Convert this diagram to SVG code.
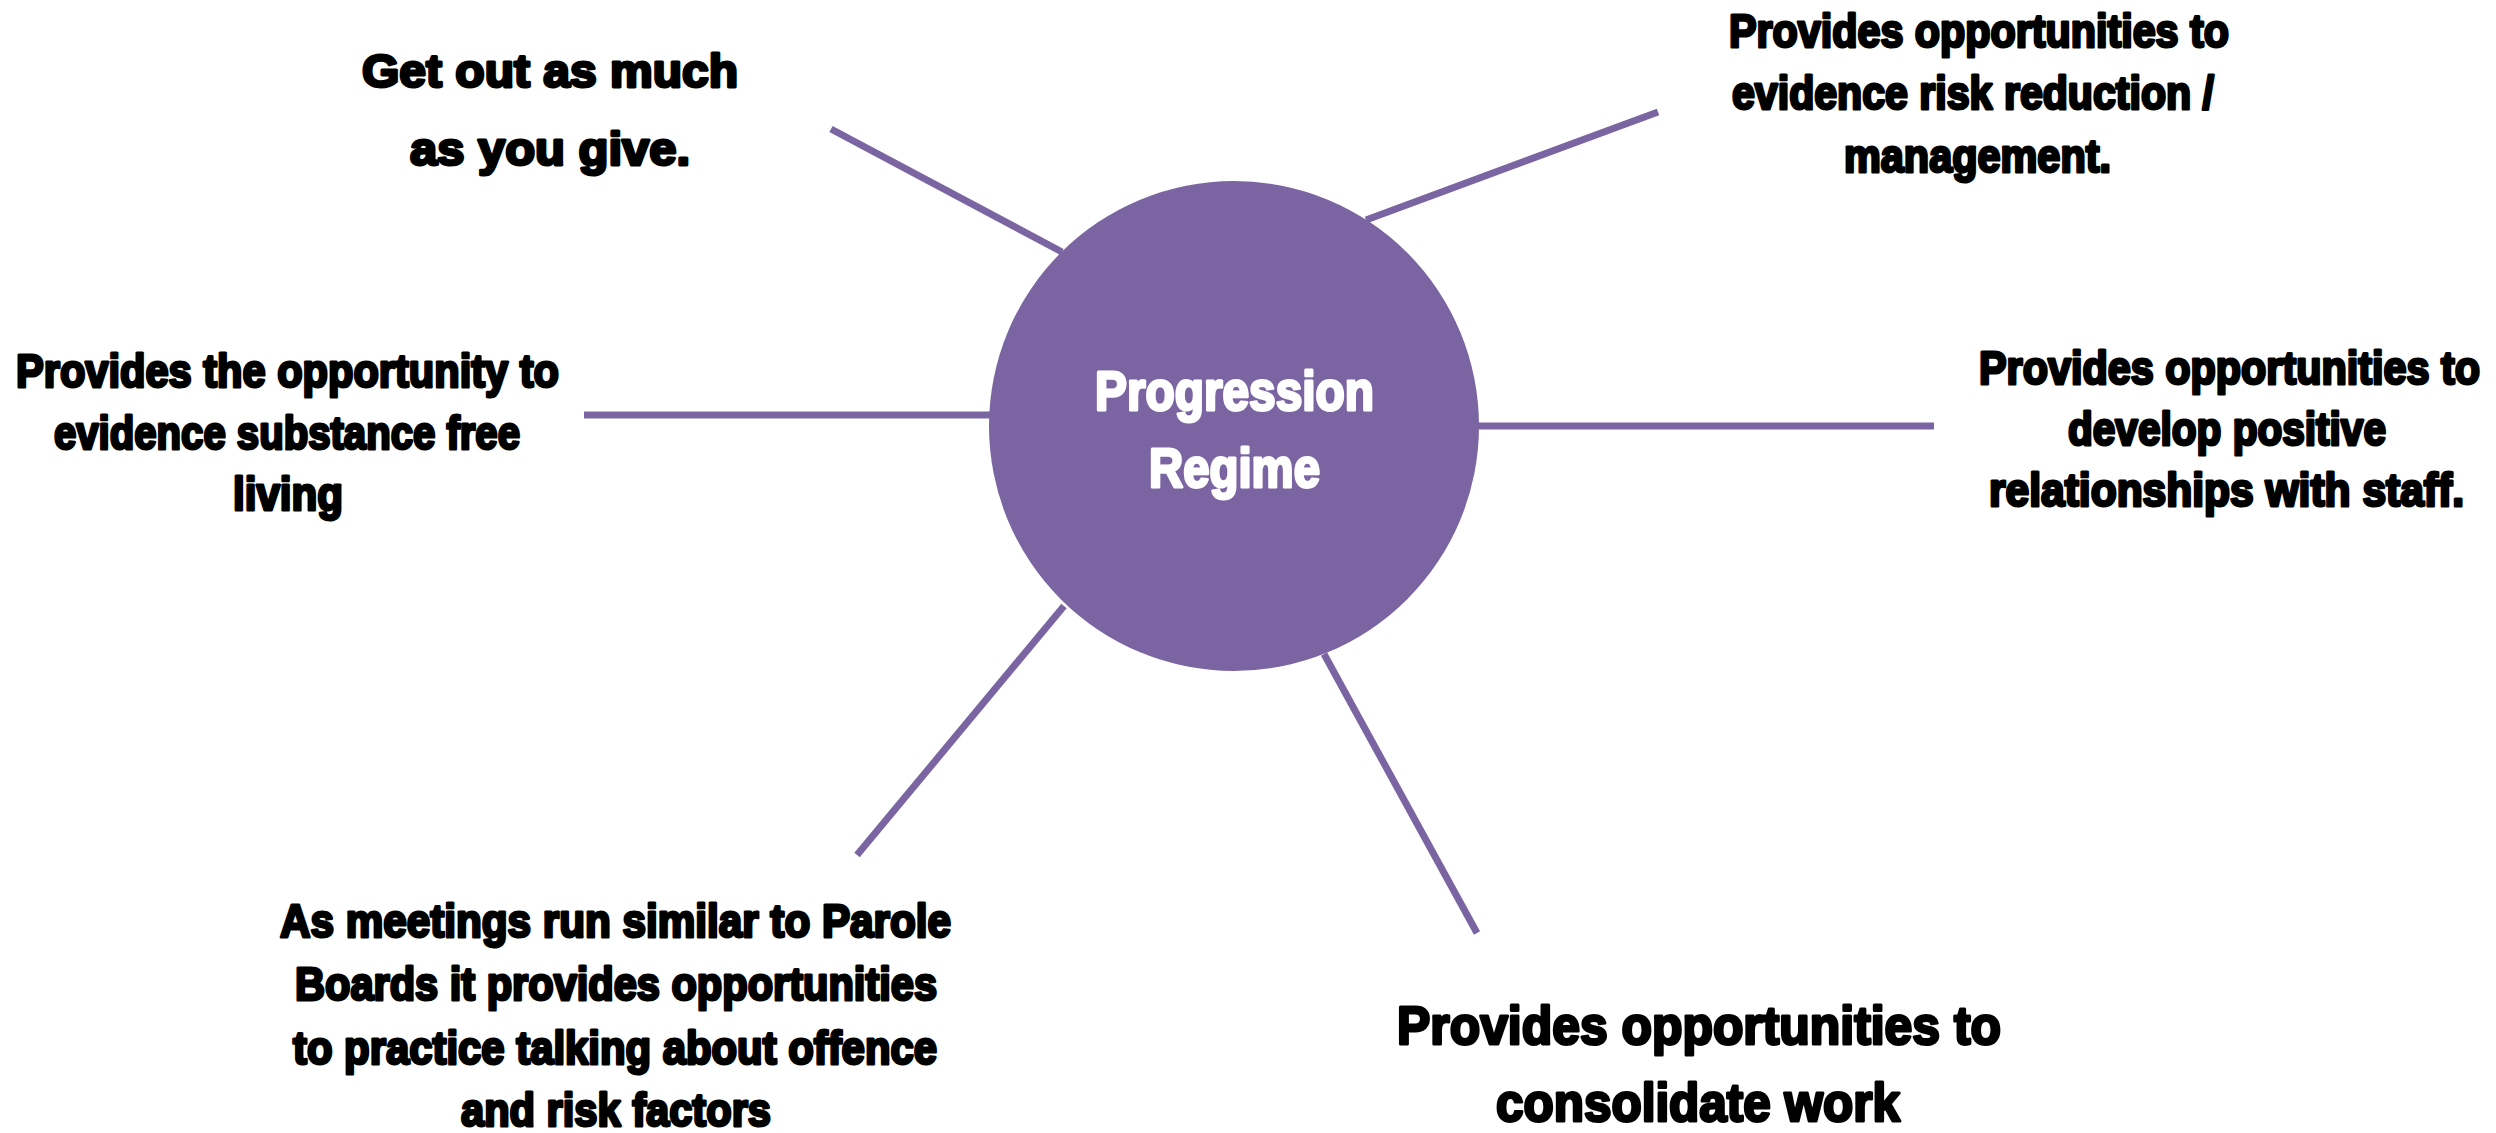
<svg xmlns="http://www.w3.org/2000/svg" width="2496" height="1133" viewBox="0 0 2496 1133">
  <style>
    .link { stroke: #7B64A2; stroke-width: 7; fill: none; stroke-linecap: butt; }
    .hub { fill: #7B64A2; }
    text { font-family: "Liberation Sans", Arial, sans-serif; font-weight: bold; stroke-width: 3; stroke-linejoin: round; }
    .hub-text { font-size: 55px; fill: #FFFFFF; stroke: #FFFFFF; }
    .label { font-size: 47px; fill: #000000; stroke: #000000; }
    .label-lg { font-size: 54px; fill: #000000; stroke: #000000; }
  </style>
  <rect width="2496" height="1133" fill="#FFFFFF"/>

  <!-- spokes from the hub out to each benefit -->
  <g id="connectors">
    <line class="link" x1="831" y1="129" x2="1062" y2="252"/>
    <line class="link" x1="1366" y1="220" x2="1658" y2="112"/>
    <line class="link" x1="584" y1="415" x2="990" y2="415"/>
    <line class="link" x1="1478" y1="426" x2="1934" y2="426"/>
    <line class="link" x1="1064" y1="606" x2="857" y2="855"/>
    <line class="link" x1="1324" y1="654" x2="1477" y2="933"/>
  </g>

  <g id="hub">
    <circle class="hub" cx="1234" cy="426" r="245"/>
    <text class="hub-text" x="1095" y="410" textLength="279" lengthAdjust="spacingAndGlyphs">Progression</text>
    <text class="hub-text" x="1149" y="487" textLength="171" lengthAdjust="spacingAndGlyphs">Regime</text>
  </g>

  <g id="node-give">
    <text class="label" x="362" y="87" textLength="376" lengthAdjust="spacingAndGlyphs">Get out as much</text>
    <text class="label" x="410" y="165" textLength="280" lengthAdjust="spacingAndGlyphs">as you give.</text>
  </g>

  <g id="node-risk">
    <text class="label" x="1729" y="47" textLength="500" lengthAdjust="spacingAndGlyphs">Provides opportunities to</text>
    <text class="label" x="1732" y="109" textLength="482" lengthAdjust="spacingAndGlyphs">evidence risk reduction /</text>
    <text class="label" x="1844" y="172" textLength="267" lengthAdjust="spacingAndGlyphs">management.</text>
  </g>

  <g id="node-substance">
    <text class="label" x="16" y="387" textLength="543" lengthAdjust="spacingAndGlyphs">Provides the opportunity to</text>
    <text class="label" x="54" y="449" textLength="466" lengthAdjust="spacingAndGlyphs">evidence substance free</text>
    <text class="label" x="233" y="510" textLength="110" lengthAdjust="spacingAndGlyphs">living</text>
  </g>

  <g id="node-staff">
    <text class="label" x="1979" y="384" textLength="501" lengthAdjust="spacingAndGlyphs">Provides opportunities to</text>
    <text class="label" x="2068" y="445" textLength="318" lengthAdjust="spacingAndGlyphs">develop positive</text>
    <text class="label" x="1989" y="506" textLength="475" lengthAdjust="spacingAndGlyphs">relationships with staff.</text>
  </g>

  <g id="node-parole">
    <text class="label" x="280" y="937" textLength="671" lengthAdjust="spacingAndGlyphs">As meetings run similar to Parole</text>
    <text class="label" x="295" y="1000" textLength="642" lengthAdjust="spacingAndGlyphs">Boards it provides opportunities</text>
    <text class="label" x="293" y="1064" textLength="644" lengthAdjust="spacingAndGlyphs">to practice talking about offence</text>
    <text class="label" x="461" y="1126" textLength="310" lengthAdjust="spacingAndGlyphs">and risk factors</text>
  </g>

  <g id="node-consolidate">
    <text class="label-lg" x="1397" y="1044" textLength="604" lengthAdjust="spacingAndGlyphs">Provides opportunities to</text>
    <text class="label-lg" x="1496" y="1121" textLength="404" lengthAdjust="spacingAndGlyphs">consolidate work</text>
  </g>
</svg>
